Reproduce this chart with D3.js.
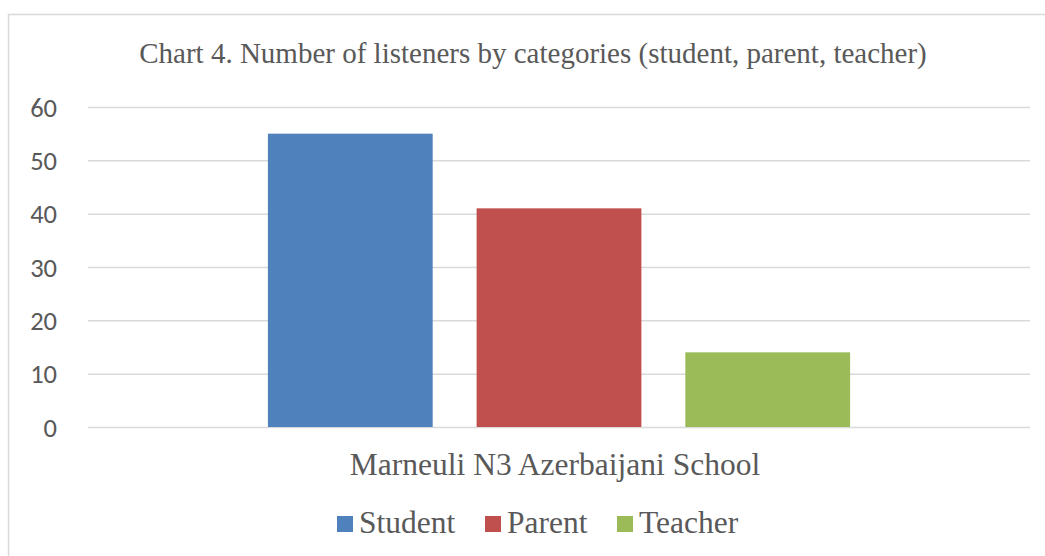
<!DOCTYPE html>
<html><head><meta charset="utf-8">
<script src="https://cdn.jsdelivr.net/npm/d3@7"></script>
<style>body{margin:0;background:#fff;}svg{display:block;}</style>
</head><body>
<svg id="chart" width="1045" height="556"></svg>
<script>
const title = "Chart 4. Number of listeners by categories (student, parent, teacher)";
const categories = ["Marneuli N3 Azerbaijani School"];
const seriesNames = ["Student", "Parent", "Teacher"];
const seriesValues = [55, 41, 14];
const seriesColors = ["#4F81BD", "#C0504D", "#9BBB59"];
const yTicks = [0, 10, 20, 30, 40, 50, 60];

const svg = d3.select("#chart");
const plot = {left: 88, right: 1030, top: 107, bottom: 427};
const textColor = "#595959";
const serif = '"Liberation Serif", serif';
const sans = '"Carlito", "Liberation Sans", sans-serif';

// outer chart border
svg.append("rect").attr("x", 8.5).attr("y", 14.5).attr("width", 1100).attr("height", 700)
  .attr("fill", "#fff").attr("stroke", "#D9D9D9").attr("stroke-width", 1.5);

const y = d3.scaleLinear().domain([0, 60]).range([plot.bottom, plot.top]);
const x0 = d3.scaleBand().domain(categories).range([plot.left, plot.right]).paddingInner(0).paddingOuter(0.309);
const x1 = d3.scaleBand().domain(seriesNames).range([0, x0.bandwidth()]).paddingInner(0.2105).paddingOuter(0);

// gridlines + tick labels
const yAxis = d3.axisLeft(y).tickValues(yTicks).tickSize(-(plot.right - plot.left)).tickFormat(d3.format("d")).tickPadding(31);
const gy = svg.append("g").attr("transform", `translate(${plot.left},0)`).call(yAxis);
gy.select(".domain").remove();
gy.selectAll(".tick line").attr("stroke", "#D9D9D9").attr("stroke-width", 1.5);
gy.selectAll(".tick text").attr("fill", textColor).attr("font-family", sans).attr("font-size", 26.5).attr("dy", "0.34em");

// bars
const data = seriesNames.map((s, i) => ({cat: categories[0], name: s, value: seriesValues[i], color: seriesColors[i]}));
svg.append("g").selectAll("rect").data(data).join("rect")
  .attr("x", d => x0(d.cat) + x1(d.name))
  .attr("y", d => y(d.value))
  .attr("width", x1.bandwidth())
  .attr("height", d => y(0) - y(d.value))
  .attr("fill", d => d.color);

// title
svg.append("text").attr("x", 533).attr("y", 63).attr("text-anchor", "middle")
  .attr("fill", textColor).attr("font-family", serif).attr("font-size", 29)
  .text(title);

// category label
svg.append("text").attr("x", x0(categories[0]) + x0.bandwidth() / 2 - 4).attr("y", 475).attr("text-anchor", "middle")
  .attr("fill", textColor).attr("font-family", serif).attr("font-size", 31.5)
  .text(categories[0]);

// legend
const legendX = [337, 485, 617];
const lg = svg.append("g");
seriesNames.forEach((s, i) => {
  lg.append("rect").attr("x", legendX[i]).attr("y", 516).attr("width", 16).attr("height", 16).attr("fill", seriesColors[i]);
  lg.append("text").attr("x", legendX[i] + 22).attr("y", 533).attr("fill", textColor)
    .attr("font-family", serif).attr("font-size", 31.5).text(s);
});
</script>
</body></html>
